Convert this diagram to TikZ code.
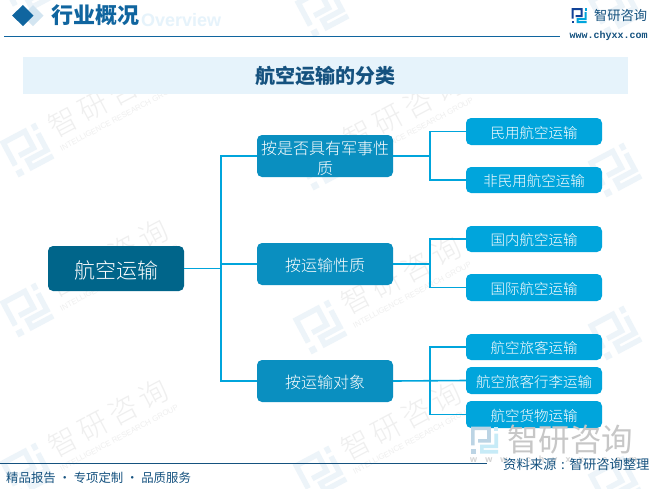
\documentclass[tikz,border=0pt]{standalone}
\usepackage{fontspec}
\setmainfont{Noto Sans CJK SC}
\newfontfamily\thinf{Noto Sans CJK SC Light}
\newfontfamily\wmf{Noto Sans CJK SC Light}[LetterSpace=17]
\newfontfamily\latinb{Liberation Sans}[BoldFont={Liberation Sans Bold}]
\newfontfamily\urlf{Liberation Sans Bold}[LetterSpace=90]
\newfontfamily\monof{Liberation Mono}
\definecolor{rootc}{HTML}{00658A}
\definecolor{midc}{HTML}{0A8FC0}
\definecolor{leafc}{HTML}{00A5DC}
\definecolor{linec}{HTML}{00A5DC}
\definecolor{navy}{HTML}{10659F}
\definecolor{inkc}{HTML}{15527F}
\definecolor{band}{HTML}{E6F3FB}
\definecolor{wmk}{HTML}{EDF4F9}
\definecolor{wmt}{HTML}{EFEFEF}
\definecolor{dia}{HTML}{D3E5F1}
\tikzset{
  boxbase/.style={rounded corners=5pt,minimum width=136pt,inner sep=0pt,text=white,align=center,anchor=center,text width=130pt,text depth=0pt},
  rootbox/.style={boxbase,fill=rootc,minimum height=45pt,font=\thinf\fontsize{21}{23}\selectfont,text height=19pt},
  midbox/.style={boxbase,fill=midc,minimum height=42pt,font=\thinf\fontsize{16}{20}\selectfont,text height=14pt},
  midtwo/.style={midbox,text height=13pt,text depth=17pt},
  leafbox/.style={boxbase,fill=leafc,font=\thinf\fontsize{14.5}{16}\selectfont,text height=13pt},
  conn/.style={draw=linec,line width=1.6pt},
  wmtext/.style={text=wmt,font=\wmf\fontsize{29}{32}\selectfont,anchor=west,inner sep=0pt,rotate=28},
  wmsub/.style={text=wmt,font=\latinb\fontsize{7.8}{10}\selectfont,anchor=west,inner sep=0pt,rotate=28}
}
\newcommand{\logoshape}[3]{% colour left, colour right, scale
  \begin{scope}[scale=#3]
    \fill[#1] (-15,-15) -- (7,-15) -- (7,3) -- (-7,3) -- (-7,-1) -- (3,-1) -- (3,-11) -- (-11,-11) -- (-11,6) -- (-15,6) -- cycle;
    \fill[#1] (-15,10) rectangle (-10,15);
    \fill[#2] (11,-15) rectangle (15,-10);
    \fill[#2] (11,-7) -- (15,-7) -- (15,9) -- (-1,9) -- (-1,11) -- (15,11) -- (15,15) -- (-5,15) -- (-5,5) -- (11,5) -- cycle;
  \end{scope}}
\newcommand{\wmlogo}[2]{%
  \begin{scope}[shift={(#1,#2)},rotate=28]\logoshape{wmk}{wmk}{1.35}\end{scope}}
\newcommand{\wmgroup}[2]{%
  \wmlogo{#1}{#2}
  \node[wmtext] at ({#1+23},{#2-21}) {智研咨询};
  \node[wmsub] at ({#1+33.5},{#2-1}) {INTELLIGENCE RESEARCH GROUP};}
\begin{document}
\begin{tikzpicture}[x=1pt,y=-1pt]
\useasboundingbox (0,0) rectangle (653,488);
\fill[white] (0,0) rectangle (653,488);
\begin{scope}
\clip (0,0) rectangle (653,488);
\wmlogo{27}{-10}
\wmgroup{27}{150}
\wmgroup{27}{310}
\wmgroup{27}{470}
\wmlogo{322}{10}
\wmgroup{322}{163}
\wmgroup{320}{327}
\wmgroup{320}{473}
\wmlogo{615}{8}
\wmlogo{615}{170}
\wmlogo{615}{333}
\wmlogo{615}{483}
\end{scope}
% header
\fill[dia] (33,5) -- (43.5,15.5) -- (33,26) -- (22.5,15.5) -- cycle;
\fill[navy] (23,5) -- (33.5,15.5) -- (23,26) -- (12,15.5) -- cycle;
\node[font=\latinb\bfseries\fontsize{18}{19}\selectfont,text=band,anchor=west,inner sep=0pt] (ov) at (141,20) {Overview};
\node[font=\bfseries\fontsize{22}{24}\selectfont,text=navy,anchor=west,inner sep=0pt] (hd) at (51,15) {行业概况};
\coordinate (l1a) at (4,36.5); \coordinate (l1b) at (560,36.5);
\draw[navy,line width=1pt] (l1a) -- (l1b);
\begin{scope}[shift={(579,15.5)}]\logoshape{inkc!80!blue}{leafc}{0.5}\end{scope}
\node[font=\fontsize{13.25}{14}\selectfont,text=inkc,anchor=west,inner sep=0pt] (brand) at (594,15.5) {智研咨询};
\node[font=\monof\bfseries\fontsize{10}{11}\selectfont,text=inkc,anchor=west,inner sep=0pt] (url) at (569.5,35.5) {www.chyxx.com};
% title
\node[fill=band,minimum width=605pt,minimum height=37pt,inner sep=0pt,text=inkc,font=\bfseries\fontsize{20}{22}\selectfont] (title) at (325.5,75.5) {航空运输的分类};
% nodes
\node[rootbox] (root) at (116,268.5) {航空运输};
\node[midtwo] (m1) at (325,156) {按是否具有军事性\\质};
\node[midbox] (m2) at (325,264) {按运输性质};
\node[midbox] (m3) at (325,381) {按运输对象};
\node[leafbox,minimum height=27pt] (a1) at (534,131.5) {民用航空运输};
\node[leafbox,minimum height=26pt] (a2) at (534,180) {非民用航空运输};
\node[leafbox,minimum height=26pt] (b1) at (534,239) {国内航空运输};
\node[leafbox,minimum height=27pt] (b2) at (534,287.5) {国际航空运输};
\node[leafbox,minimum height=26pt] (c1) at (534,347) {航空旅客运输};
\node[leafbox,minimum height=27pt] (c2) at (534,380.5) {航空旅客行李运输};
\node[leafbox,minimum height=27pt] (c3) at (534,414.5) {航空货物运输};
% connectors
\coordinate (t0) at (221,268.5);
\coordinate (t1) at (430,0);
\draw[conn] (root.east) -- (t0);
\draw[conn] (m1.west) -| (t0 |- m3.west) -- (m3.west);
\draw[conn] (t0 |- m2.west) -- (m2.west);
\draw[conn] (m1.east) -- (t1 |- m1.east);
\draw[conn] (m2.east) -- (t1 |- m2.east);
\draw[conn] (m3.east) -- (c2.west);
\draw[conn] (a1.west) -- (t1 |- a1.west) -- (t1 |- a2.west) -- (a2.west);
\draw[conn] (b1.west) -- (t1 |- b1.west) -- (t1 |- b2.west) -- (b2.west);
\draw[conn] (c1.west) -- (t1 |- c1.west) -- (t1 |- c3.west) -- (c3.west);
% bottom watermark
\begin{scope}[shift={(484.5,440)}]\logoshape{navy!28!white}{leafc!22!white}{0.9}\end{scope}
\node[font=\fontsize{31.5}{33}\selectfont,text=black!22,anchor=west,inner sep=0pt] (bw) at (507,439.5) {智研咨询};
\node[font=\urlf\fontsize{9}{10}\selectfont,text=black!18,anchor=west,inner sep=0pt] (bu) at (470,460) {www.chyxx.com};
% footer
\coordinate (l2a) at (0,463.5); \coordinate (l2b) at (487,463.5);
\draw[inkc,line width=1pt] (l2a) -- (l2b);
\node[font=\fontsize{13.3}{15}\selectfont,text=inkc,anchor=west,inner sep=0pt] (src) at (503,464) {资料来源\makebox[13.3pt]{:}智研咨询整理};
\node[font=\fontsize{12.4}{14}\selectfont,text=inkc,anchor=west,inner sep=0pt] (ft) at (6,478) {精品报告 · 专项定制 · 品质服务};
\end{tikzpicture}
\end{document}
